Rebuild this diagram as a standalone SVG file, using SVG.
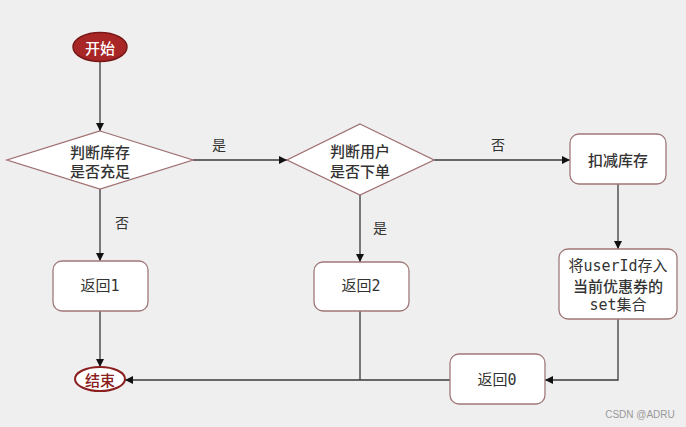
<svg xmlns="http://www.w3.org/2000/svg" width="686" height="427" viewBox="0 0 686 427">
<style>
.bg{fill:#efefef}
.box{fill:#ffffff;stroke:#a07878;stroke-width:1.3}
.dia{fill:#ffffff;stroke:#a07070;stroke-width:1.3}
.t{font-family:"Noto Sans CJK SC","Noto Sans",sans-serif;font-size:15px;font-weight:500;fill:#333333;text-anchor:middle;dominant-baseline:central}
.m{font-family:"DejaVu Sans Mono","Noto Sans CJK SC",monospace;font-size:15px;fill:#333333;text-anchor:middle;dominant-baseline:central}
.lbl{font-family:"Noto Sans CJK SC","Noto Sans",sans-serif;font-size:14px;fill:#333333;text-anchor:middle;dominant-baseline:central}
.c{fill:none;stroke:#3a3a3a;stroke-width:1.3}
</style>
<defs>
<marker id="ah" viewBox="0 0 10 10" refX="10" refY="5" markerWidth="8" markerHeight="8" markerUnits="userSpaceOnUse" orient="auto">
<path d="M0,0 L10,5 L0,10 z" fill="#111"/>
</marker>
</defs>
<rect class="bg" x="0" y="0" width="686" height="427"/>
<g id="connectors">
<path class="c" d="M100,61 L100,131" marker-end="url(#ah)"/>
<path class="c" d="M193,160 L287,160" marker-end="url(#ah)"/>
<path class="c" d="M100,189 L100,261" marker-end="url(#ah)"/>
<path class="c" d="M434,160 L570,160" marker-end="url(#ah)"/>
<path class="c" d="M360,195 L360,262" marker-end="url(#ah)"/>
<path class="c" d="M618,184 L618,249" marker-end="url(#ah)"/>
<path class="c" d="M100,311 L100,367" marker-end="url(#ah)"/>
<path class="c" d="M360,311 L360,380"/>
<path class="c" d="M450,380 L125,380" marker-end="url(#ah)"/>
<path class="c" d="M618,319 L618,380 L545,380" marker-end="url(#ah)"/>
<text class="lbl" x="219" y="144">是</text>
<text class="lbl" x="122" y="222">否</text>
<text class="lbl" x="498" y="144">否</text>
<text class="lbl" x="380" y="227">是</text>
</g>
<g id="start">
<ellipse cx="100" cy="47" rx="27" ry="14.5" fill="#a82626" stroke="#7a1818" stroke-width="1.5"/>
<text class="t" x="100" y="47" style="fill:#ffffff">开始</text>
</g>
<g id="check-stock">
<polygon class="dia" points="100,131 193,160 100,189 7,160"/>
<text class="t" x="100" y="151">判断库存</text>
<text class="t" x="100" y="170">是否充足</text>
</g>
<g id="check-user">
<polygon class="dia" points="360,124 434,160 360,195 287,160"/>
<text class="t" x="360" y="150">判断用户</text>
<text class="t" x="360" y="170">是否下单</text>
</g>
<g id="deduct">
<rect class="box" x="570" y="134" width="96" height="50" rx="9"/>
<text class="t" x="618" y="159">扣减库存</text>
</g>
<g id="save-user">
<rect class="box" x="559" y="249" width="118" height="70" rx="9"/>
<text class="m" x="618" y="266">将userId存入</text>
<text class="t" x="618" y="285.5">当前优惠券的</text>
<text class="m" x="618" y="305">set集合</text>
</g>
<g id="ret1">
<rect class="box" x="53" y="261" width="95" height="50" rx="9"/>
<text class="m" x="100" y="286">返回1</text>
</g>
<g id="ret2">
<rect class="box" x="314" y="262" width="95" height="49" rx="9"/>
<text class="m" x="361" y="286">返回2</text>
</g>
<g id="ret0">
<rect class="box" x="450" y="354" width="95" height="50" rx="9"/>
<text class="m" x="497" y="380">返回0</text>
</g>
<g id="end">
<ellipse cx="100" cy="379" rx="25" ry="12" fill="#ffffff" stroke="#8b2020" stroke-width="2"/>
<text class="t" x="100" y="379" style="fill:#8b2020">结束</text>
</g>
<text x="640" y="414" font-family="Liberation Sans, sans-serif" font-size="10" fill="#999999" text-anchor="middle" dominant-baseline="central">CSDN @ADRU</text>
</svg>
